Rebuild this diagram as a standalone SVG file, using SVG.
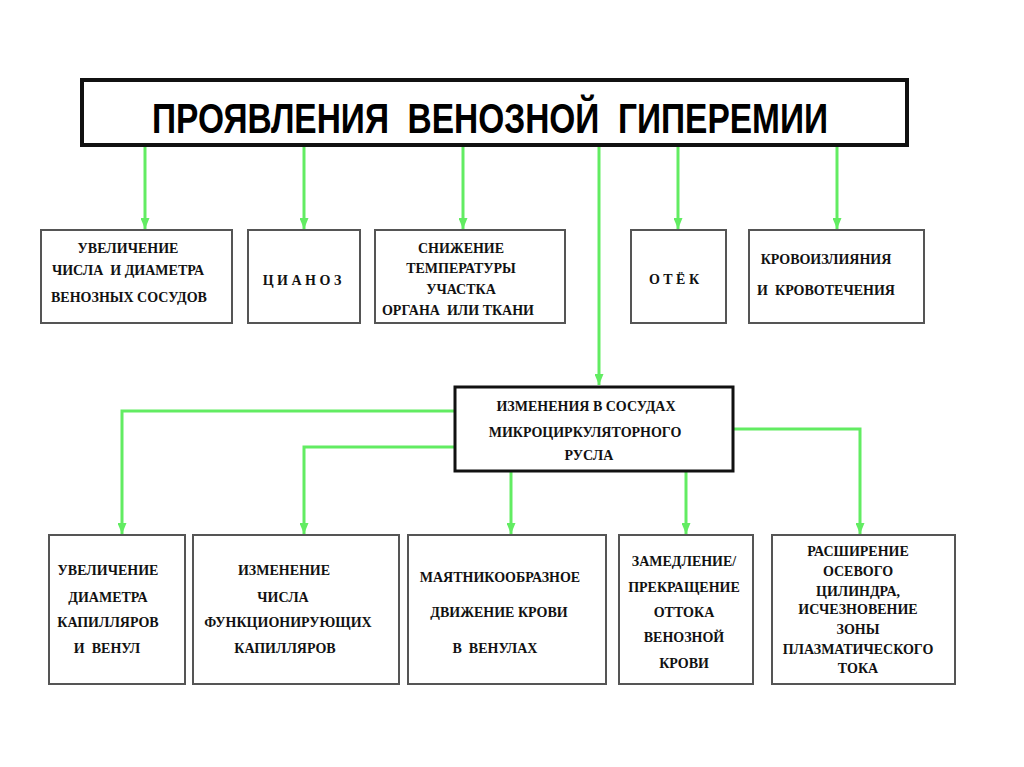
<svg xmlns="http://www.w3.org/2000/svg" width="1024" height="767" viewBox="0 0 1024 767" xml:space="preserve">
<defs>
<marker id="ah" markerUnits="userSpaceOnUse" markerWidth="11" markerHeight="9" refX="11" refY="4.5" orient="auto">
<path d="M0,0 L11,4.5 L0,9 z" fill="#62ec62"/>
</marker>
<style>
text{white-space:pre;}
.title{font-family:"Liberation Sans",Arial,sans-serif;font-weight:bold;font-size:43px;fill:#000;}
.t{font-family:"Liberation Serif","Times New Roman","DejaVu Serif",serif;font-weight:bold;font-size:14px;fill:#111;text-anchor:middle;}
.box{fill:#fff;stroke:#555;stroke-width:2;}
.bbox{fill:#fff;stroke:#111;stroke-width:3;}
.tbox{fill:#fff;stroke:#111;stroke-width:4;}
.ca{fill:none;stroke:#62ec62;stroke-width:3;marker-end:url(#ah);}
</style>
</defs>
<rect width="1024" height="767" fill="#fff"/>
<g id="connectors">
<line class="ca" x1="145" y1="147" x2="145" y2="229"/>
<line class="ca" x1="304" y1="147" x2="304" y2="229"/>
<line class="ca" x1="463" y1="147" x2="463" y2="229"/>
<line class="ca" x1="678" y1="147" x2="678" y2="229"/>
<line class="ca" x1="837" y1="147" x2="837" y2="229"/>
<line class="ca" x1="599" y1="147" x2="599" y2="385"/>
<polyline class="ca" points="455,411 122,411 122,534"/>
<polyline class="ca" points="455,447 304,447 304,534"/>
<line class="ca" x1="511" y1="472" x2="511" y2="534"/>
<line class="ca" x1="686" y1="472" x2="686" y2="534"/>
<polyline class="ca" points="734,429 860,429 860,534"/>
</g>
<g id="title">
<rect class="tbox" x="82" y="80" width="825" height="65"/>
<text class="title" x="152" y="133" textLength="676" lengthAdjust="spacingAndGlyphs">ПРОЯВЛЕНИЯ  ВЕНОЗНОЙ  ГИПЕРЕМИИ</text>
</g>
<g id="n1">
<rect class="box" x="41" y="230" width="191" height="93"/>
<text class="t" x="128" y="253">УВЕЛИЧЕНИЕ</text>
<text class="t" x="128" y="275">ЧИСЛА  И ДИАМЕТРА</text>
<text class="t" x="129" y="302">ВЕНОЗНЫХ СОСУДОВ</text>
</g>
<g id="n2">
<rect class="box" x="248" y="230" width="112" height="93"/>
<text class="t" x="302" y="285">Ц И А Н О З</text>
</g>
<g id="n3">
<rect class="box" x="375" y="230" width="190" height="93"/>
<text class="t" x="461" y="253">СНИЖЕНИЕ</text>
<text class="t" x="461" y="273">ТЕМПЕРАТУРЫ</text>
<text class="t" x="461" y="294">УЧАСТКА</text>
<text class="t" x="458" y="315">ОРГАНА  ИЛИ ТКАНИ</text>
</g>
<g id="n4">
<rect class="box" x="631" y="230" width="95" height="93"/>
<text class="t" x="674" y="284">О Т Ё К</text>
</g>
<g id="n5">
<rect class="box" x="749" y="230" width="175" height="93"/>
<text class="t" x="826" y="264">КРОВОИЗЛИЯНИЯ</text>
<text class="t" x="826" y="295">И  КРОВОТЕЧЕНИЯ</text>
</g>
<g id="mid">
<rect class="bbox" x="455" y="387" width="278" height="84"/>
<text class="t" x="586" y="411">ИЗМЕНЕНИЯ В СОСУДАХ</text>
<text class="t" x="585" y="437">МИКРОЦИРКУЛЯТОРНОГО</text>
<text class="t" x="589" y="460">РУСЛА</text>
</g>
<g id="b1">
<rect class="box" x="49" y="535" width="136" height="149"/>
<text class="t" x="108" y="575">УВЕЛИЧЕНИЕ</text>
<text class="t" x="108" y="602">ДИАМЕТРА</text>
<text class="t" x="108" y="627">КАПИЛЛЯРОВ</text>
<text class="t" x="107" y="653">И  ВЕНУЛ</text>
</g>
<g id="b2">
<rect class="box" x="193" y="535" width="206" height="149"/>
<text class="t" x="284" y="575">ИЗМЕНЕНИЕ</text>
<text class="t" x="283" y="602">ЧИСЛА</text>
<text class="t" x="288" y="627">ФУНКЦИОНИРУЮЩИХ</text>
<text class="t" x="285" y="653">КАПИЛЛЯРОВ</text>
</g>
<g id="b3">
<rect class="box" x="408" y="535" width="198" height="149"/>
<text class="t" x="500" y="582">МАЯТНИКООБРАЗНОЕ</text>
<text class="t" x="499" y="617">ДВИЖЕНИЕ КРОВИ</text>
<text class="t" x="495" y="653">В  ВЕНУЛАХ</text>
</g>
<g id="b4">
<rect class="box" x="619" y="535" width="134" height="149"/>
<text class="t" x="684" y="566">ЗАМЕДЛЕНИЕ/</text>
<text class="t" x="684" y="592">ПРЕКРАЩЕНИЕ</text>
<text class="t" x="684" y="617">ОТТОКА</text>
<text class="t" x="684" y="642">ВЕНОЗНОЙ</text>
<text class="t" x="684" y="668">КРОВИ</text>
</g>
<g id="b5">
<rect class="box" x="772" y="535" width="183" height="149"/>
<text class="t" x="858" y="556">РАСШИРЕНИЕ</text>
<text class="t" x="858" y="576">ОСЕВОГО</text>
<text class="t" x="858" y="596">ЦИЛИНДРА,</text>
<text class="t" x="858" y="614">ИСЧЕЗНОВЕНИЕ</text>
<text class="t" x="858" y="634">ЗОНЫ</text>
<text class="t" x="858" y="654">ПЛАЗМАТИЧЕСКОГО</text>
<text class="t" x="858" y="673">ТОКА</text>
</g>
</svg>
